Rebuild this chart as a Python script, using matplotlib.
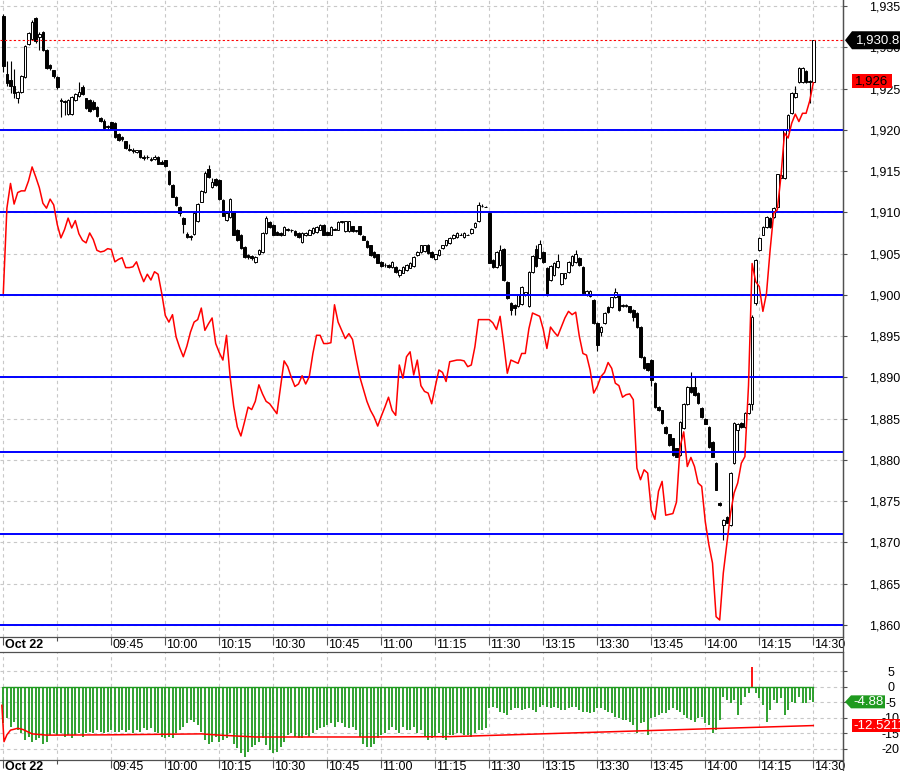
import matplotlib
matplotlib.use("Agg")
import matplotlib.pyplot as plt
from matplotlib.patches import Polygon, Rectangle
from matplotlib.transforms import IdentityTransform

plt.rcParams['font.family'] = ['Liberation Sans', 'DejaVu Sans']

# 1-minute bars, 09:15-11:30 and 13:00-14:30
opens = [
    1933.8, 1926.8, 1926.0, 1925.3, 1923.9, 1924.6, 1926.4, 1930.4, 1931.0, 1933.5,
    1931.3, 1931.8, 1929.7, 1927.8, 1927.2, 1926.4, 1923.6, 1923.5, 1921.9, 1921.9,
    1923.6, 1924.1, 1925.2, 1923.8, 1923.6, 1923.4, 1922.8, 1921.4, 1921.1, 1920.4,
    1920.9, 1920.8, 1919.5, 1919.1, 1918.6, 1917.7, 1917.5, 1917.3, 1917.5, 1916.7,
    1916.7, 1916.3, 1916.5, 1916.7, 1916.1, 1916.3, 1915.0, 1913.3, 1911.9, 1910.7,
    1909.3, 1907.4, 1907.1, 1907.4, 1908.9, 1911.3, 1912.5, 1915.2, 1913.1, 1914.0,
    1913.9, 1911.5, 1909.1, 1909.4, 1910.1, 1907.9, 1907.3, 1905.8, 1904.8, 1904.7,
    1904.0, 1904.9, 1905.2, 1907.5, 1908.8, 1908.5, 1907.6, 1907.5, 1907.3, 1908.0,
    1907.9, 1907.7, 1907.5, 1906.4, 1907.2, 1907.3, 1907.5, 1907.6, 1907.9, 1908.5,
    1907.6, 1907.3, 1907.9, 1907.9, 1908.8, 1907.7, 1907.7, 1908.3, 1907.8, 1908.3,
    1907.1, 1906.5, 1906.0, 1905.2, 1904.9, 1904.0, 1903.6, 1903.6, 1903.4, 1903.4,
    1902.4, 1902.7, 1903.0, 1903.3, 1903.5, 1904.8, 1905.2, 1905.3, 1906.1, 1905.2,
    1904.3, 1904.8, 1905.7, 1906.0, 1906.3, 1906.9, 1907.0, 1907.3, 1907.0, 1907.3,
    1907.5, 1908.2, 1908.9, 1910.8, 1910.7, 1909.9, 1904.2, 1903.4, 1903.6, 1905.6,
    1901.6, 1899.0, 1898.8, 1898.6, 1898.9, 1900.0, 1898.6, 1902.8, 1905.6, 1904.5,
    1905.2, 1903.3, 1901.8, 1902.4, 1903.4, 1901.3, 1902.0, 1902.8, 1903.6, 1904.0,
    1904.5, 1903.4, 1900.0, 1899.9, 1899.4, 1896.6, 1895.5, 1896.6, 1898.5, 1898.5,
    1899.7, 1900.0, 1898.6, 1898.6, 1898.6, 1898.2, 1897.8, 1896.1, 1892.5, 1891.7,
    1892.1, 1889.3, 1886.4, 1886.0, 1884.0, 1883.1, 1882.6, 1881.4, 1880.6, 1883.9,
    1886.8, 1888.8, 1888.8, 1888.1, 1886.3, 1885.0, 1884.0, 1882.2, 1879.6, 1874.8,
    1872.1, 1873.1, 1872.1, 1879.6, 1883.6, 1884.5, 1884.0, 1885.7, 1886.8, 1899.0,
    1905.4, 1907.3, 1908.2, 1909.3, 1909.4, 1910.6, 1914.2, 1914.1, 1920.0, 1922.0,
    1924.0, 1925.8, 1925.8, 1927.1, 1925.8, 1925.8,
]
closes = [
    1927.7, 1925.7, 1925.3, 1924.5, 1924.6, 1926.5, 1930.2, 1931.7, 1933.1, 1930.7,
    1931.6, 1929.7, 1927.5, 1927.5, 1926.5, 1925.2, 1923.5, 1923.4, 1923.6, 1924.0,
    1924.3, 1924.6, 1924.3, 1922.6, 1922.3, 1922.5, 1921.7, 1921.1, 1920.2, 1920.3,
    1920.1, 1919.1, 1918.8, 1918.9, 1917.8, 1917.6, 1917.4, 1917.5, 1916.7, 1916.6,
    1916.7, 1916.5, 1916.7, 1915.9, 1915.9, 1915.6, 1913.4, 1911.9, 1910.9, 1909.9,
    1908.6, 1907.0, 1907.0, 1909.9, 1911.0, 1912.6, 1914.8, 1914.3, 1913.7, 1913.3,
    1911.6, 1909.6, 1909.9, 1911.6, 1907.3, 1906.6, 1905.7, 1904.6, 1904.6, 1904.5,
    1904.6, 1905.4, 1907.5, 1909.3, 1908.2, 1907.3, 1907.3, 1907.3, 1908.2, 1907.8,
    1907.8, 1907.2, 1907.0, 1907.5, 1907.5, 1907.9, 1908.1, 1908.2, 1908.5, 1907.3,
    1907.3, 1908.2, 1908.0, 1908.8, 1908.9, 1908.9, 1908.9, 1907.7, 1907.7, 1907.4,
    1906.7, 1905.8, 1904.8, 1904.6, 1903.9, 1903.5, 1903.6, 1903.4, 1904.0, 1902.8,
    1903.0, 1903.4, 1903.6, 1903.9, 1904.6, 1905.2, 1906.0, 1906.0, 1905.1, 1904.6,
    1904.9, 1905.4, 1906.0, 1906.6, 1906.9, 1907.3, 1907.5, 1907.3, 1907.5, 1907.3,
    1908.0, 1908.7, 1910.9, 1910.8, 1910.7, 1903.9, 1903.4, 1905.2, 1905.4, 1901.8,
    1899.6, 1898.2, 1898.4, 1900.0, 1901.0, 1900.3, 1902.8, 1904.7, 1903.5, 1906.2,
    1904.0, 1900.0, 1903.5, 1903.9, 1904.1, 1902.6, 1902.6, 1904.0, 1904.7, 1905.0,
    1903.6, 1900.2, 1900.5, 1900.5, 1896.6, 1893.9, 1896.1, 1897.8, 1897.9, 1899.7,
    1900.3, 1898.2, 1898.8, 1898.8, 1897.9, 1897.3, 1896.1, 1892.5, 1891.1, 1890.9,
    1889.7, 1886.4, 1886.0, 1884.5, 1883.3, 1881.8, 1880.6, 1880.4, 1884.6, 1886.8,
    1888.8, 1888.2, 1887.9, 1886.9, 1885.2, 1884.4, 1881.6, 1880.4, 1876.4, 1874.5,
    1872.7, 1872.4, 1878.4, 1884.5, 1884.4, 1884.0, 1885.7, 1886.8, 1897.3, 1904.2,
    1906.9, 1908.2, 1909.4, 1908.2, 1910.5, 1914.6, 1914.5, 1920.0, 1921.8, 1924.5,
    1924.5, 1927.5, 1927.5, 1925.8, 1925.9, 1930.85,
]
highs = [
    1934.0, 1928.3, 1928.3, 1927.4, 1924.7, 1926.6, 1930.3, 1931.8, 1933.3, 1933.7,
    1931.9, 1932.0, 1929.8, 1928.0, 1927.3, 1926.5, 1923.8, 1923.6, 1923.7, 1924.1,
    1924.4, 1925.8, 1925.4, 1923.9, 1923.7, 1923.6, 1922.9, 1921.6, 1921.3, 1920.6,
    1921.0, 1920.9, 1919.6, 1919.2, 1918.7, 1918.3, 1917.8, 1917.6, 1917.6, 1916.9,
    1916.9, 1916.7, 1917.0, 1916.8, 1916.3, 1916.4, 1915.1, 1913.4, 1912.0, 1910.8,
    1909.4, 1907.6, 1907.3, 1910.0, 1911.1, 1912.7, 1915.0, 1915.7, 1914.2, 1914.1,
    1914.0, 1911.6, 1910.0, 1911.7, 1910.2, 1908.0, 1907.4, 1905.9, 1905.0, 1904.8,
    1904.7, 1905.5, 1907.6, 1909.5, 1908.9, 1908.6, 1907.7, 1907.6, 1908.3, 1908.1,
    1908.0, 1907.8, 1907.6, 1907.6, 1907.6, 1908.0, 1908.2, 1908.3, 1908.6, 1908.6,
    1907.7, 1908.3, 1908.1, 1908.9, 1909.0, 1909.0, 1909.0, 1908.4, 1907.9, 1908.4,
    1907.2, 1906.6, 1906.1, 1905.3, 1905.0, 1904.1, 1903.8, 1903.7, 1904.1, 1903.5,
    1903.1, 1903.5, 1903.7, 1904.0, 1904.7, 1905.3, 1906.1, 1906.1, 1906.2, 1905.3,
    1905.0, 1905.5, 1906.1, 1906.7, 1907.0, 1907.4, 1907.6, 1907.5, 1907.6, 1907.4,
    1908.1, 1908.8, 1911.2, 1911.0, 1910.8, 1910.0, 1904.3, 1905.3, 1906.0, 1905.7,
    1901.7, 1899.1, 1898.9, 1900.1, 1901.1, 1900.4, 1902.9, 1904.8, 1906.0, 1906.6,
    1905.3, 1903.4, 1903.6, 1904.0, 1905.0, 1902.7, 1902.7, 1904.1, 1904.8, 1905.4,
    1904.6, 1903.5, 1900.6, 1900.6, 1899.5, 1896.7, 1896.2, 1897.9, 1898.6, 1899.8,
    1900.8, 1900.1, 1898.9, 1898.9, 1898.7, 1898.3, 1897.9, 1896.2, 1892.6, 1891.8,
    1892.2, 1889.4, 1886.5, 1886.1, 1884.1, 1883.2, 1882.7, 1881.5, 1884.7, 1886.9,
    1888.9, 1890.6, 1890.0, 1888.2, 1886.4, 1885.1, 1884.1, 1882.3, 1879.7, 1874.9,
    1872.8, 1873.2, 1878.5, 1884.6, 1884.5, 1884.6, 1885.8, 1886.9, 1897.5, 1904.4,
    1907.0, 1908.3, 1909.5, 1909.4, 1910.6, 1914.7, 1914.6, 1920.1, 1921.9, 1924.6,
    1925.3, 1927.6, 1927.6, 1927.2, 1926.0, 1930.9,
]
lows = [
    1927.0, 1925.3, 1924.5, 1923.9, 1923.2, 1924.4, 1926.3, 1930.3, 1930.9, 1930.5,
    1929.7, 1929.5, 1927.4, 1927.2, 1926.3, 1925.0, 1921.5, 1921.8, 1921.8, 1921.8,
    1923.5, 1924.0, 1924.2, 1922.5, 1922.2, 1922.4, 1921.6, 1920.9, 1920.0, 1920.1,
    1920.0, 1919.0, 1918.7, 1918.7, 1917.7, 1917.4, 1917.2, 1917.2, 1916.6, 1916.4,
    1916.5, 1916.2, 1916.4, 1915.8, 1915.8, 1915.5, 1913.3, 1911.8, 1910.8, 1909.6,
    1907.5, 1906.9, 1906.7, 1907.3, 1908.8, 1911.2, 1912.4, 1914.2, 1913.0, 1913.2,
    1911.5, 1909.5, 1909.0, 1909.3, 1907.2, 1906.5, 1905.6, 1904.5, 1904.4, 1904.2,
    1903.8, 1904.8, 1905.1, 1907.4, 1908.1, 1907.2, 1907.2, 1907.1, 1907.2, 1907.7,
    1907.6, 1907.1, 1906.9, 1906.3, 1907.1, 1907.2, 1907.4, 1907.5, 1907.8, 1907.2,
    1907.2, 1907.2, 1907.8, 1907.8, 1908.7, 1907.6, 1907.6, 1907.6, 1907.6, 1907.3,
    1906.6, 1905.7, 1904.7, 1904.5, 1903.8, 1903.4, 1903.4, 1903.3, 1903.3, 1902.7,
    1902.2, 1902.6, 1902.9, 1903.2, 1903.4, 1904.7, 1905.1, 1905.2, 1905.0, 1904.5,
    1904.2, 1904.7, 1905.6, 1905.9, 1906.2, 1906.8, 1906.9, 1907.2, 1906.9, 1907.2,
    1907.4, 1908.1, 1908.8, 1910.7, 1910.6, 1903.8, 1903.3, 1903.3, 1903.5, 1901.7,
    1899.5, 1897.5, 1897.6, 1898.5, 1898.8, 1899.9, 1898.5, 1902.7, 1903.4, 1904.4,
    1903.9, 1899.9, 1901.7, 1902.3, 1903.3, 1901.2, 1901.9, 1902.7, 1903.5, 1903.9,
    1903.5, 1900.1, 1899.9, 1899.8, 1896.5, 1893.2, 1895.0, 1896.5, 1897.8, 1898.4,
    1899.6, 1898.1, 1898.5, 1898.5, 1897.8, 1896.8, 1896.0, 1892.4, 1891.0, 1890.8,
    1889.0, 1886.3, 1885.9, 1884.4, 1883.2, 1881.7, 1880.5, 1880.3, 1880.5, 1883.8,
    1886.7, 1888.1, 1887.8, 1886.8, 1885.1, 1884.3, 1881.5, 1880.3, 1876.3, 1874.4,
    1870.3, 1872.3, 1872.0, 1879.5, 1881.0, 1883.9, 1883.9, 1885.6, 1886.0, 1898.8,
    1905.3, 1907.2, 1908.1, 1908.1, 1909.3, 1910.5, 1914.1, 1914.0, 1919.9, 1921.9,
    1923.9, 1925.7, 1925.7, 1925.7, 1923.2, 1925.7,
]
# second instrument (red line), same price scale
red_line = [
    1900.2, 1910.5, 1913.5, 1911.0, 1912.4, 1912.6, 1912.6, 1913.8, 1915.5, 1914.3,
    1913.0, 1911.1, 1910.5, 1911.6, 1910.9, 1908.5, 1906.9, 1907.9, 1909.3, 1908.1,
    1909.0, 1907.4, 1906.6, 1906.3, 1907.5, 1906.7, 1905.4, 1905.2, 1905.3, 1905.6,
    1905.5, 1904.0, 1904.3, 1904.5, 1903.3, 1903.3, 1903.4, 1904.0, 1902.7, 1901.6,
    1902.5, 1901.8, 1902.8, 1902.5, 1900.2, 1897.5, 1896.7, 1897.6, 1894.9, 1893.6,
    1892.5, 1893.8, 1895.5, 1896.7, 1897.0, 1898.4, 1895.7, 1896.5, 1897.2, 1894.1,
    1893.0, 1892.1, 1895.1, 1890.1, 1886.5, 1884.0, 1882.9, 1884.6, 1886.4, 1886.1,
    1887.1, 1889.1, 1888.0, 1887.1, 1886.8, 1886.2, 1885.6, 1888.8, 1892.0, 1891.3,
    1890.0, 1888.9, 1889.2, 1890.2, 1889.2, 1890.1, 1892.9, 1895.1, 1895.1, 1894.1,
    1894.1, 1894.2, 1898.8, 1896.7, 1895.7, 1894.7, 1895.3, 1894.6, 1892.3, 1890.1,
    1888.6, 1887.1, 1886.0, 1885.2, 1884.1, 1885.3, 1886.4, 1887.6, 1886.0, 1885.4,
    1891.5, 1889.9, 1892.5, 1893.1, 1890.3, 1892.1, 1889.0, 1888.3, 1888.1, 1886.8,
    1888.9, 1890.9, 1890.6, 1889.5, 1891.9, 1892.0, 1892.1, 1892.1, 1892.0, 1891.3,
    1891.5, 1893.7, 1897.0, 1897.0, 1897.0, 1897.0, 1896.6, 1895.8, 1897.4, 1894.1,
    1890.5, 1892.1, 1891.9, 1891.7, 1892.9, 1892.9, 1895.9, 1897.8, 1897.6, 1897.4,
    1895.8, 1893.5, 1896.1, 1895.5, 1895.0, 1896.1, 1897.2, 1898.0, 1897.6, 1897.9,
    1895.0, 1892.9, 1892.7, 1890.9, 1888.1, 1888.9, 1890.1, 1890.6, 1891.8, 1891.1,
    1889.3, 1889.0, 1887.6, 1887.9, 1888.0, 1887.3, 1879.0, 1877.6, 1878.8, 1878.4,
    1873.9, 1872.8, 1876.2, 1877.4, 1873.3, 1873.4, 1873.5, 1874.9, 1881.6, 1883.4,
    1879.2, 1880.3, 1879.2, 1877.2, 1876.8, 1872.5, 1869.7, 1867.5, 1861.0, 1860.6,
    1866.3, 1869.9, 1873.5, 1876.0, 1877.2, 1879.6, 1880.4, 1889.0, 1903.8, 1901.6,
    1901.0, 1898.0, 1900.2, 1905.4, 1909.9, 1910.3, 1914.3, 1919.6, 1919.0, 1920.8,
    1921.9, 1921.0, 1922.0, 1922.0, 1923.5, 1925.7,
]
# lower panel oscillator
osc = [
    -11.8, -10.2, -12.9, -11.5, -14.0, -15.0, -17.2, -16.1, -17.7, -17.2,
    -16.6, -18.3, -17.7, -15.6, -15.0, -15.6, -15.0, -16.1, -15.6, -16.6,
    -15.6, -15.0, -16.1, -15.0, -14.5, -15.0, -14.0, -14.5, -15.0, -14.5,
    -14.0, -14.5, -14.5, -14.0, -14.5, -14.0, -15.0, -14.0, -14.5, -13.4,
    -14.0, -13.4, -14.5, -15.0, -16.1, -16.6, -16.1, -16.6, -15.0, -14.0,
    -12.9, -11.8, -10.7, -11.3, -12.4, -14.5, -17.2, -18.3, -17.7, -16.1,
    -17.7, -17.2, -16.6, -15.0, -18.3, -19.9, -21.5, -22.6, -20.9, -19.3,
    -18.8, -17.7, -16.6, -18.8, -20.4, -21.5, -21.0, -19.3, -17.7, -15.6,
    -15.0, -16.1, -16.6, -16.6, -15.6, -16.1, -15.0, -14.0, -13.4, -12.9,
    -12.4, -11.8, -12.9, -11.3, -11.8, -12.9, -13.4, -12.9, -14.0, -16.1,
    -18.3, -19.3, -19.3, -18.3, -16.6, -15.6, -15.0, -14.0, -12.9, -14.0,
    -15.0, -12.9, -14.0, -14.0, -12.9, -15.0, -14.0, -16.1, -17.2, -16.6,
    -16.1, -15.0, -16.6, -17.2, -15.6, -15.6, -15.0, -15.0, -15.6, -15.6,
    -16.1, -15.0, -14.0, -14.0, -13.4, -7.0, -6.4, -7.0, -8.1, -8.6,
    -9.1, -7.5, -7.0, -7.0, -7.5, -7.3, -7.0, -7.5, -8.1, -6.4,
    -5.9, -6.4, -7.0, -6.4, -7.0, -7.5, -7.5, -7.0, -6.4, -6.4,
    -7.5, -8.1, -8.1, -8.6, -8.1, -7.0, -7.0, -7.5, -8.1, -8.6,
    -9.7, -10.2, -10.7, -10.7, -11.3, -12.4, -15.0, -11.8, -11.3, -15.6,
    -10.2, -9.7, -9.1, -8.6, -8.6, -7.5, -7.0, -7.5, -8.1, -9.1,
    -10.2, -10.7, -11.3, -10.2, -9.7, -11.8, -12.4, -15.0, -14.0, -10.7,
    -3.4, -4.3, -5.4, -4.3, -9.1, -5.9, -3.2, -2.1, 6.4, -2.1,
    -3.8, -5.9, -11.3, -7.5, -4.3, -5.4, -3.8, -9.1, -7.5, -4.8,
    -5.4, -3.2, -5.4, -5.4, -4.3, -4.88,
]
avg_x = [-0.4, 0.2, 1, 2, 4, 5.5, 8, 12, 30, 55, 60, 70, 100, 124, 225]
avg_y = [-6.0, -17.7, -15.5, -14.0, -13.4, -13.8, -15.2, -15.6, -15.5, -15.2,
         -15.6, -16.2, -16.2, -16.1, -12.52]

levels = [1920, 1910, 1900, 1890, 1881, 1871, 1860]
last_price = 1930.85
red_last = 1925.9
tick_pos = [0, 30, 45, 60, 75, 90, 105, 120, 135, 150, 165, 180, 195, 210, 225]
tick_lab = ["Oct 22", "09:45", "10:00", "10:15", "10:30", "10:45", "11:00", "11:15",
            "11:30", "13:15", "13:30", "13:45", "14:00", "14:15", "14:30"]
minor_pos = [15]
price_ticks = list(range(1860, 1936, 5))
osc_ticks = [5, 0, -5, -10, -15, -20]

W, H = 900, 771
GREEN = '#1f9a1f'
GRID = '#c8c8c8'
EDGE = '#505050'


def frac(x0, y0, x1, y1):
    return [x0 / W, 1 - y1 / H, (x1 - x0) / W, (y1 - y0) / H]


fig = plt.figure(figsize=(9, 7.71), dpi=100, facecolor='white')
ax = fig.add_axes(frac(0, 0, 843, 636.7))
ax2 = fig.add_axes(frac(0, 652.3, 843, 760))

xlim = (-3.3 / 3.6, (843 - 3.3) / 3.6)
xs = list(range(len(closes)))

for a in (ax, ax2):
    a.set_xlim(*xlim)
    a.set_axisbelow(True)
    a.set_xticks(tick_pos)
    a.set_xticks(minor_pos, minor=True)
    a.tick_params(axis='x', which='major', length=6, width=0.8, color=EDGE,
                  labelbottom=False)
    a.tick_params(axis='x', which='minor', length=3, width=0.8, color=EDGE)
    a.grid(True, which='both', axis='x', color=GRID, lw=0.8, ls=(0, (3, 3)))
    a.grid(True, which='major', axis='y', color=GRID, lw=0.8, ls=(0, (3, 3)))
    a.yaxis.tick_right()
    a.spines['left'].set_visible(False)
    for s in ('right', 'bottom', 'top'):
        a.spines[s].set_color(EDGE)
        a.spines[s].set_linewidth(0.9)
ax.spines['top'].set_visible(False)

# main price panel
ax.set_ylim(1935 - 630.7 / 8.253, 1935 + 6 / 8.253)
ax.set_yticks(price_ticks)
ax.set_yticklabels([f"{v:,}" for v in price_ticks])
ax.tick_params(axis='y', length=3, width=0.8, color=EDGE, pad=16, labelsize=9)

ax.vlines(xs, lows, highs, color='black', lw=0.8, zorder=3)
bottoms = [min(o, c) for o, c in zip(opens, closes)]
heights = [abs(c - o) for o, c in zip(opens, closes)]
faces = ['white' if c >= o else 'black' for o, c in zip(opens, closes)]
ax.bar(xs, heights, bottom=bottoms, width=0.72, color=faces, edgecolor='black',
       lw=0.7, zorder=4)

for lv in levels:
    ax.axhline(lv, color='#0000ff', lw=1.4, zorder=5)
ax.axhline(last_price, color='#ff0000', lw=0.8, ls=(0, (2, 2)), zorder=5)
ax.plot(xs, red_line, color='#ff0000', lw=1.1, zorder=6)

# lower oscillator panel
ax2.set_ylim(-(760 - 686.7) / 3.104, (686.7 - 652.3) / 3.104)
ax2.set_yticks(osc_ticks)
ax2.set_yticklabels([str(v) for v in osc_ticks])
ax2.tick_params(axis='y', length=3, width=0.8, color=EDGE, pad=31.5, labelsize=9)
for t in ax2.get_yticklabels():
    t.set_ha('center')
bar_cols = [GREEN if v < 0 else '#ff0000' for v in osc]
ax2.vlines(xs, 0, osc, colors=bar_cols, lw=1.3, zorder=3)
ax2.plot([xs[0], xs[-1]], [0, 0], color=GREEN, lw=1.0, zorder=3)
ax2.plot(avg_x, avg_y, color='#ff0000', lw=1.1, zorder=4)

# time labels in the two bands
for a, yy in ((ax, -7.8 / 636.7), (ax2, -7.0 / 107.7)):
    for p, lab in zip(tick_pos, tick_lab):
        a.text(p + 0.35, yy, lab, transform=a.get_xaxis_transform(), ha='left',
               va='center', fontsize=9, clip_on=False,
               fontweight='bold' if lab.startswith('Oct') else 'normal')

# right spine through the label bands
fig.add_artist(plt.Line2D([843, 843], [0, H], transform=IdentityTransform(),
                          color=EDGE, lw=0.9))

# value flags on the right
pix = IdentityTransform()


def ypix(a, v):
    return a.transData.transform((0, v))[1]


yc = ypix(ax, last_price)
fig.add_artist(Polygon([(845, yc), (852, yc + 9), (905, yc + 9), (905, yc - 9), (852, yc - 9)],
                       closed=True, transform=pix, facecolor='black', edgecolor='none'))
fig.text(856, yc, "1,930.85", transform=pix, color='white', fontsize=9.5, va='center', ha='left')

yc = ypix(ax, red_last)
fig.add_artist(Rectangle((851.7, yc - 7.2), 40, 14.4, transform=pix, facecolor='#ff0000',
                         edgecolor='none'))
fig.text(871.7, yc, "1,926", transform=pix, color='black', fontsize=9.5, va='center', ha='center')

yc = ypix(ax2, osc[-1])
fig.add_artist(Polygon([(845, yc), (851, yc + 6.5), (885, yc + 6.5), (885, yc - 6.5), (851, yc - 6.5)],
                       closed=True, transform=pix, facecolor=GREEN, edgecolor='none'))
fig.text(868, yc, "-4.88", transform=pix, color='white', fontsize=9.5, va='center', ha='center')

yc = ypix(ax2, avg_y[-1])
fig.add_artist(Rectangle((851.7, yc - 6.5), 55, 13, transform=pix, facecolor='#ff0000',
                         edgecolor='none'))
fig.text(853, yc, "-12.5211", transform=pix, color='white', fontsize=9.5, va='center', ha='left')

fig.savefig("out.png", dpi=100, facecolor='white')
